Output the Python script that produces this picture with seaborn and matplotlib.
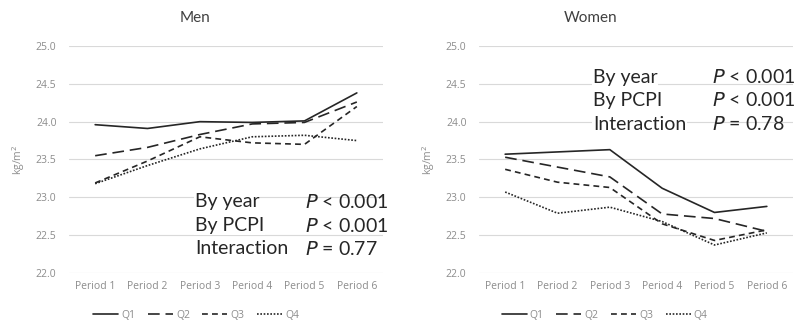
import matplotlib
matplotlib.use("Agg")
import matplotlib.pyplot as plt
import seaborn as sns
import pandas as pd
from matplotlib.lines import Line2D

periods = ["Period 1", "Period 2", "Period 3", "Period 4", "Period 5", "Period 6"]
quartiles = ["Q1", "Q2", "Q3", "Q4"]

men_q1 = [23.96, 23.91, 24.00, 23.99, 24.01, 24.38]
men_q2 = [23.55, 23.66, 23.83, 23.97, 23.99, 24.26]
men_q3 = [23.19, 23.48, 23.80, 23.72, 23.70, 24.20]
men_q4 = [23.18, 23.42, 23.64, 23.80, 23.82, 23.75]

women_q1 = [23.57, 23.60, 23.63, 23.12, 22.80, 22.88]
women_q2 = [23.53, 23.40, 23.27, 22.78, 22.72, 22.55]
women_q3 = [23.37, 23.20, 23.13, 22.65, 22.43, 22.57]
women_q4 = [23.07, 22.79, 22.87, 22.68, 22.37, 22.53]

men_stats = [("By year", "< 0.001"), ("By PCPI", "< 0.001"), ("Interaction", "= 0.77")]
women_stats = [("By year", "< 0.001"), ("By PCPI", "< 0.001"), ("Interaction", "= 0.78")]

sns.set_theme(style="white")
plt.rcParams["font.family"] = ["Open Sans", "DejaVu Sans"]

GRAY = "#8c8c8c"
LINE = "#262626"
dashes = {"Q1": "", "Q2": (7, 3.5), "Q3": (3.5, 2.5), "Q4": (1, 1)}


def long_frame(series):
    rows = []
    for q, vals in zip(quartiles, series):
        for p, v in zip(periods, vals):
            rows.append({"period": p, "quartile": q, "bmi": v})
    return pd.DataFrame(rows)


fig = plt.figure(figsize=(8, 3.26), dpi=100)
ax_m = fig.add_axes([0.08625, 0.1626, 0.3925, 0.6963])
ax_w = fig.add_axes([0.59875, 0.1626, 0.3925, 0.6963])

panels = [
    (ax_m, long_frame([men_q1, men_q2, men_q3, men_q4]), "Men", 0.244, men_stats, (195, 202), 305, 0.405),
    (ax_w, long_frame([women_q1, women_q2, women_q3, women_q4]), "Women", 0.738, women_stats, (593, 77), 712, 0.40),
]

for ax, df, title, tx, stats, (sx, sy), px, lx in panels:
    sns.lineplot(data=df, x="period", y="bmi", style="quartile", dashes=dashes,
                 color=LINE, linewidth=1.2, legend=False, ax=ax, sort=False)
    ax.set_xlim(-0.5, 5.5)
    ax.set_ylim(22.0, 25.0)
    ax.set_yticks([22.0, 22.5, 23.0, 23.5, 24.0, 24.5, 25.0])
    ax.set_yticklabels([f"{v:.1f}" for v in ax.get_yticks()])
    ax.grid(axis="y", color="#d9d9d9", linewidth=0.8)
    ax.set_axisbelow(True)
    for s in ax.spines.values():
        s.set_visible(False)
    ax.tick_params(axis="both", colors=GRAY, labelsize=7.5, length=0, pad=6)
    ax.tick_params(axis="y", pad=9)
    ax.set_xlabel("")
    ax.set_ylabel("kg/m$^2$", color=GRAY, fontsize=7.5, labelpad=6)
    fig.text(tx, 1 - 18 / 326, title, ha="center", va="center", fontsize=11, color="#404040",
             family=["Lato", "DejaVu Sans"])

    # statistics block
    for i, (name, val) in enumerate(stats):
        y = 1 - (sy + i * 23.5) / 326
        fig.text(sx / 800, y, name, ha="left", va="center", fontsize=14, color="#262626",
                 family=["Lato", "DejaVu Sans"],
                 bbox=dict(facecolor="white", edgecolor="none", pad=0.5))
        fig.text(px / 800, y, "$P$ " + val, ha="left", va="center", fontsize=14,
                 color="#262626", family=["Lato", "DejaVu Sans"])

    handles = [Line2D([], [], color=LINE, linewidth=1.2,
                      linestyle=(0, dashes[q]) if dashes[q] else "-") for q in quartiles]
    ax.legend(handles, quartiles, loc="upper center", bbox_to_anchor=(lx, -0.12),
              ncol=4, frameon=False, fontsize=7.5, labelcolor=GRAY, handlelength=2.4,
              handletextpad=0.3, columnspacing=1.2)

fig.savefig("out.png", dpi=100)
